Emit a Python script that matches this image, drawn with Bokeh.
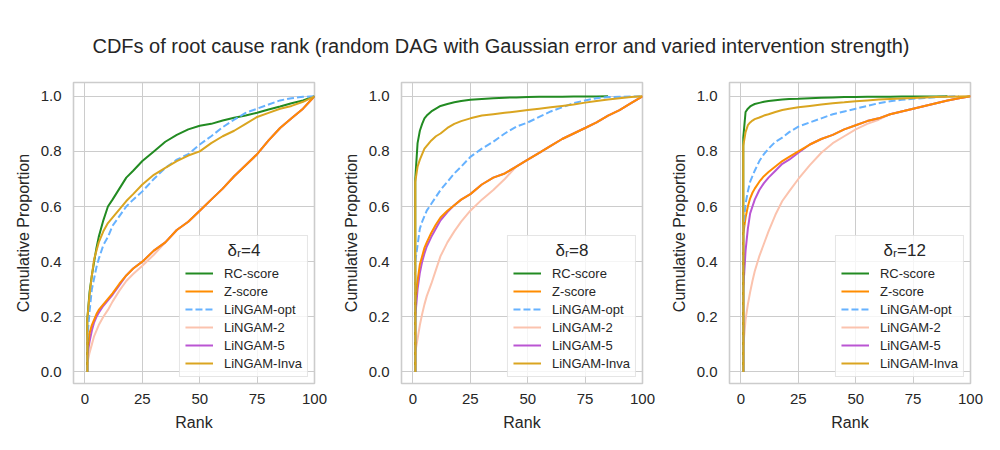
from bokeh.plotting import figure
from bokeh.models import (Range1d, FixedTicker, PrintfTickFormatter, Legend,
                          LegendItem, ColumnDataSource, Label, Spacer)
from bokeh.layouts import column, row
from bokeh.embed import file_html
from bokeh.resources import INLINE

nan = float("nan")

TITLE = "CDFs of root cause rank (random DAG with Gaussian error and varied intervention strength)"
X_LABEL = "Rank"
Y_LABEL = "Cumulative Proportion"
X_TICKS = [0, 25, 50, 75, 100]
Y_TICKS = [0.0, 0.2, 0.4, 0.6, 0.8, 1.0]
DELTAS = [4, 8, 12]
METHODS = ["RC-score", "Z-score", "LiNGAM-opt", "LiNGAM-2", "LiNGAM-5", "LiNGAM-Inva"]

# rank at which each cumulative proportion is read (first entry: start of the CDF)
RANKS = [1, 1, 2, 3, 4, 5, 6, 8, 10, 12, 15, 18, 21, 25, 30, 35, 40, 45, 50,
         55, 60, 65, 70, 75, 80, 85, 90, 95, 100]

# delta_r = 4
rc_4 = [0, .19, .29, .35, .40, .45, .49, .55, .60, .625, .665, .705, .73, .765, .80,
        .835, .86, .88, .893, .90, .912, .922, .93, .94, .952, .963, .975, .985, 1.0]
z_4 = [0, .07, .14, .17, .19, .21, .225, .245, .265, .285, .32, .35, .375, .40, .44,
       .47, .515, .545, .585, .625, .665, .71, .75, .79, .84, .885, .92, .955, 1.0]
opt_4 = [0, .12, .22, .30, .34, .38, .41, .46, .49, .53, .565, .60, .625, .655, .70,
         .74, .77, .79, .825, .855, .888, .915, .94, .955, .97, .985, .993, .998, 1.0]
lin2_4 = [0, .03, .07, .10, .13, .15, .17, .20, .225, .255, .295, .33, .355, .385, .425,
          .47, .515, .545, .585, .625, .665, .71, .75, .79, .84, .885, .92, .955, 1.0]
lin5_4 = [0, .06, .11, .15, .18, .20, .215, .24, .26, .28, .315, .35, .375, .40, .44,
          .47, .515, .545, .585, .625, .665, .71, .75, .79, .84, .885, .92, .955, 1.0]
inva_4 = [0, .19, .28, .35, .41, .44, .47, .51, .54, .56, .59, .62, .645, .68, .715,
          .74, .765, .785, .80, .83, .855, .875, .90, .925, .94, .955, .965, .98, 1.0]

# delta_r = 8
rc_8 = [0, .70, .83, .875, .90, .92, .93, .945, .955, .965, .972, .978, .983, .987, .99,
        .993, .995, .996, .997, .998, .998, .998, .999, .999, .999, 1.0, nan, nan, nan]
z_8 = [0, .25, .33, .39, .42, .45, .47, .505, .535, .56, .585, .605, .625, .645, .68,
       .705, .72, .745, .77, .795, .82, .845, .865, .885, .905, .93, .95, .975, 1.0]
opt_8 = [0, .40, .46, .52, .545, .565, .585, .61, .635, .66, .69, .72, .745, .78, .81,
         .835, .865, .89, .905, .925, .945, .96, .975, .985, .993, .997, .998, .999, 1.0]
lin2_8 = [0, .07, .12, .17, .21, .245, .275, .32, .37, .42, .47, .51, .545, .585, .625,
          .66, .70, .745, .77, .795, .82, .845, .865, .885, .905, .93, .95, .975, 1.0]
lin5_8 = [0, .20, .30, .36, .40, .43, .455, .49, .52, .55, .58, .605, .625, .645, .68,
          .705, .72, .745, .77, .795, .82, .845, .865, .885, .905, .93, .95, .975, 1.0]
inva_8 = [0, .69, .745, .77, .79, .81, .82, .84, .855, .865, .885, .90, .91, .92, .93,
          .935, .94, .945, .95, .955, .96, .965, .97, .977, .983, .988, .993, .997, 1.0]

# delta_r = 12
rc_12 = [0, .85, .943, .955, .963, .968, .972, .976, .98, .983, .986, .988, .99, .991, .993,
         .995, .996, .997, .997, .998, .998, .998, .999, .999, .999, .999, 1.0, nan, nan]
z_12 = [0, .50, .56, .60, .63, .65, .665, .69, .71, .725, .745, .765, .78, .80, .825,
        .845, .86, .88, .895, .91, .92, .935, .945, .955, .965, .975, .985, .993, 1.0]
opt_12 = [0, .52, .61, .655, .69, .71, .73, .765, .79, .81, .835, .85, .87, .89, .905,
          .92, .935, .945, .955, .965, .975, .982, .987, .991, .994, .997, .999, 1.0, nan]
lin2_12 = [0, .09, .19, .245, .29, .33, .365, .42, .465, .51, .57, .62, .655, .70, .75,
           .795, .83, .855, .88, .90, .915, .935, .945, .955, .965, .975, .985, .993, 1.0]
lin5_12 = [0, .30, .44, .52, .575, .60, .625, .66, .685, .705, .73, .755, .77, .795, .825,
           .845, .86, .88, .895, .91, .92, .935, .945, .955, .965, .975, .985, .993, 1.0]
inva_12 = [0, .82, .87, .895, .905, .912, .917, .923, .93, .935, .943, .95, .955, .96, .965,
           .97, .975, .978, .982, .985, .988, .99, .992, .994, .996, .997, .998, .999, 1.0]

PANEL_SERIES = [
    [rc_4, z_4, opt_4, lin2_4, lin5_4, inva_4],
    [rc_8, z_8, opt_8, lin2_8, lin5_8, inva_8],
    [rc_12, z_12, opt_12, lin2_12, lin5_12, inva_12],
]

COLORS = ["#228B22", "#FF8C00", "#66B2FF", "#FBC3AE", "#BA55D3", "#DAA520"]
DASHES = ["solid", "solid", "7 3", "solid", "solid", "solid"]
DRAW_ORDER = [3, 4, 1, 0, 2, 5]

FONT = "Liberation Sans"
TEXT = "#262626"
GRID = "#cccccc"


def make_panel(delta, series):
    p = figure(width=328, height=370, title=None,
               x_range=Range1d(-5, 100), y_range=Range1d(-0.042, 1.05),
               output_backend="svg", toolbar_location=None,
               min_border_left=65, min_border_right=22,
               min_border_top=14, min_border_bottom=55)
    p.background_fill_color = "white"
    p.border_fill_color = "white"
    p.outline_line_color = GRID
    p.outline_line_width = 1.6

    renderers = {}
    for i in DRAW_ORDER:
        src = ColumnDataSource(dict(x=RANKS, y=series[i]))
        r = p.line("x", "y", source=src, line_color=COLORS[i], line_width=2,
                   line_dash=DASHES[i])
        renderers[i] = r

    p.xaxis.ticker = FixedTicker(ticks=X_TICKS)
    p.yaxis.ticker = FixedTicker(ticks=Y_TICKS)
    p.xaxis.formatter = PrintfTickFormatter(format="%d")
    p.yaxis.formatter = PrintfTickFormatter(format="%.1f")
    p.xaxis.axis_label = X_LABEL
    p.yaxis.axis_label = Y_LABEL
    for ax in (p.xaxis, p.yaxis):
        ax.axis_line_color = None
        ax.major_tick_out = 0
        ax.major_tick_in = 0
        ax.minor_tick_out = 0
        ax.minor_tick_in = 0
        ax.major_label_text_font = FONT
        ax.major_label_text_font_size = "15px"
        ax.major_label_text_color = TEXT
        ax.axis_label_text_font = FONT
        ax.axis_label_text_font_size = "16px"
        ax.axis_label_text_font_style = "normal"
        ax.axis_label_text_color = TEXT
    p.xaxis.major_label_standoff = 10
    p.yaxis.major_label_standoff = 12
    p.xaxis.axis_label_standoff = 7
    p.yaxis.axis_label_standoff = 6
    for g in (p.xgrid, p.ygrid):
        g.grid_line_color = GRID
        g.grid_line_width = 1

    items = [LegendItem(label=METHODS[i], renderers=[renderers[i]]) for i in range(6)]
    legend = Legend(items=items, location="bottom_right",
                    title="\u00a0" * 9 + "\u03b4\u1d63=" + str(delta))
    legend.title_text_font = FONT
    legend.title_text_font_size = "17px"
    legend.title_text_font_style = "normal"
    legend.title_text_color = TEXT
    legend.title_standoff = 4
    legend.label_text_font = FONT
    legend.label_text_font_size = "13px"
    legend.label_text_color = TEXT
    legend.glyph_width = 28
    legend.glyph_height = 16
    legend.label_height = 16
    legend.label_standoff = 11
    legend.spacing = 2
    legend.padding = 5
    legend.margin = 6
    legend.border_line_color = GRID
    legend.border_line_width = 1
    legend.background_fill_color = "white"
    legend.background_fill_alpha = 0.8
    p.add_layout(legend)
    return p


header = figure(width=992, height=68, title=None,
                x_range=Range1d(0, 1), y_range=Range1d(0, 1),
                x_axis_location=None, y_axis_location=None,
                output_backend="svg", toolbar_location=None, min_border=0)
header.outline_line_color = None
header.grid.visible = False
header.add_layout(Label(x=0.5045, y=0.338, text=TITLE, text_align="center",
                        text_baseline="middle", text_font=FONT,
                        text_font_size="20px", text_color=TEXT))

panels = [make_panel(d, s) for d, s in zip(DELTAS, PANEL_SERIES)]
layout = column(header, row(Spacer(width=8), *panels))

open("out.html", "w").write(file_html(layout, INLINE))
